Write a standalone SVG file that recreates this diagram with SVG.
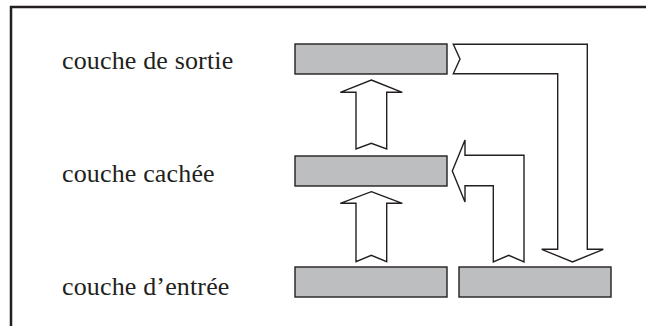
<svg xmlns="http://www.w3.org/2000/svg" width="646" height="326" viewBox="0 0 646 326">
<style>
.frame{fill:none;stroke:#231f20;stroke-width:2.5}
.layer{fill:#bcbec0;stroke:#231f20;stroke-width:1.4}
.arrow{fill:#fff;stroke:#231f20;stroke-width:1.4;stroke-linejoin:miter}
.lbl{font-family:'Liberation Serif','Times New Roman',serif;font-size:26px;letter-spacing:0.15px;fill:#231f20}
</style>
<rect width="646" height="326" fill="#fff"/>
<rect class="frame" x="11" y="7" width="700" height="400"/>
<g id="label-sortie"><text class="lbl" x="62" y="69">couche de sortie</text></g>
<g id="label-cachee"><text class="lbl" x="62" y="182">couche cachée</text></g>
<g id="label-entree"><text class="lbl" x="62" y="295">couche d’entrée</text></g>
<g id="output-layer"><rect class="layer" x="295" y="44" width="152" height="30"/></g>
<g id="hidden-layer"><rect class="layer" x="295" y="156" width="152" height="30"/></g>
<g id="input-layer"><rect class="layer" x="295" y="267" width="152" height="30"/></g>
<g id="input-layer-2"><rect class="layer" x="459" y="267" width="152" height="30"/></g>
<g id="connectors">
<polygon class="arrow" points="371.3,191.7 402.3,203.3 386.7,203.3 386.7,261.7 371.3,255.3 356,261.7 356,203.3 340.3,203.3"/>
<polygon class="arrow" points="371.3,80 402.3,92.3 386.7,92.3 386.7,149 371.3,143.3 356,149 356,92.3 340.3,92.3"/>
<polygon class="arrow" points="453.3,44.3 587.3,44.3 587.3,249.3 603.3,249.3 572.5,262 541.7,249.3 557.7,249.3 557.7,73.7 453.3,73.7 460,59"/>
<polygon class="arrow" points="452.3,171 465,140 465,155.3 524,155.3 524,262 508.7,255.3 493.3,262 493.3,185.7 465,185.7 465,202"/>
</g>
</svg>
